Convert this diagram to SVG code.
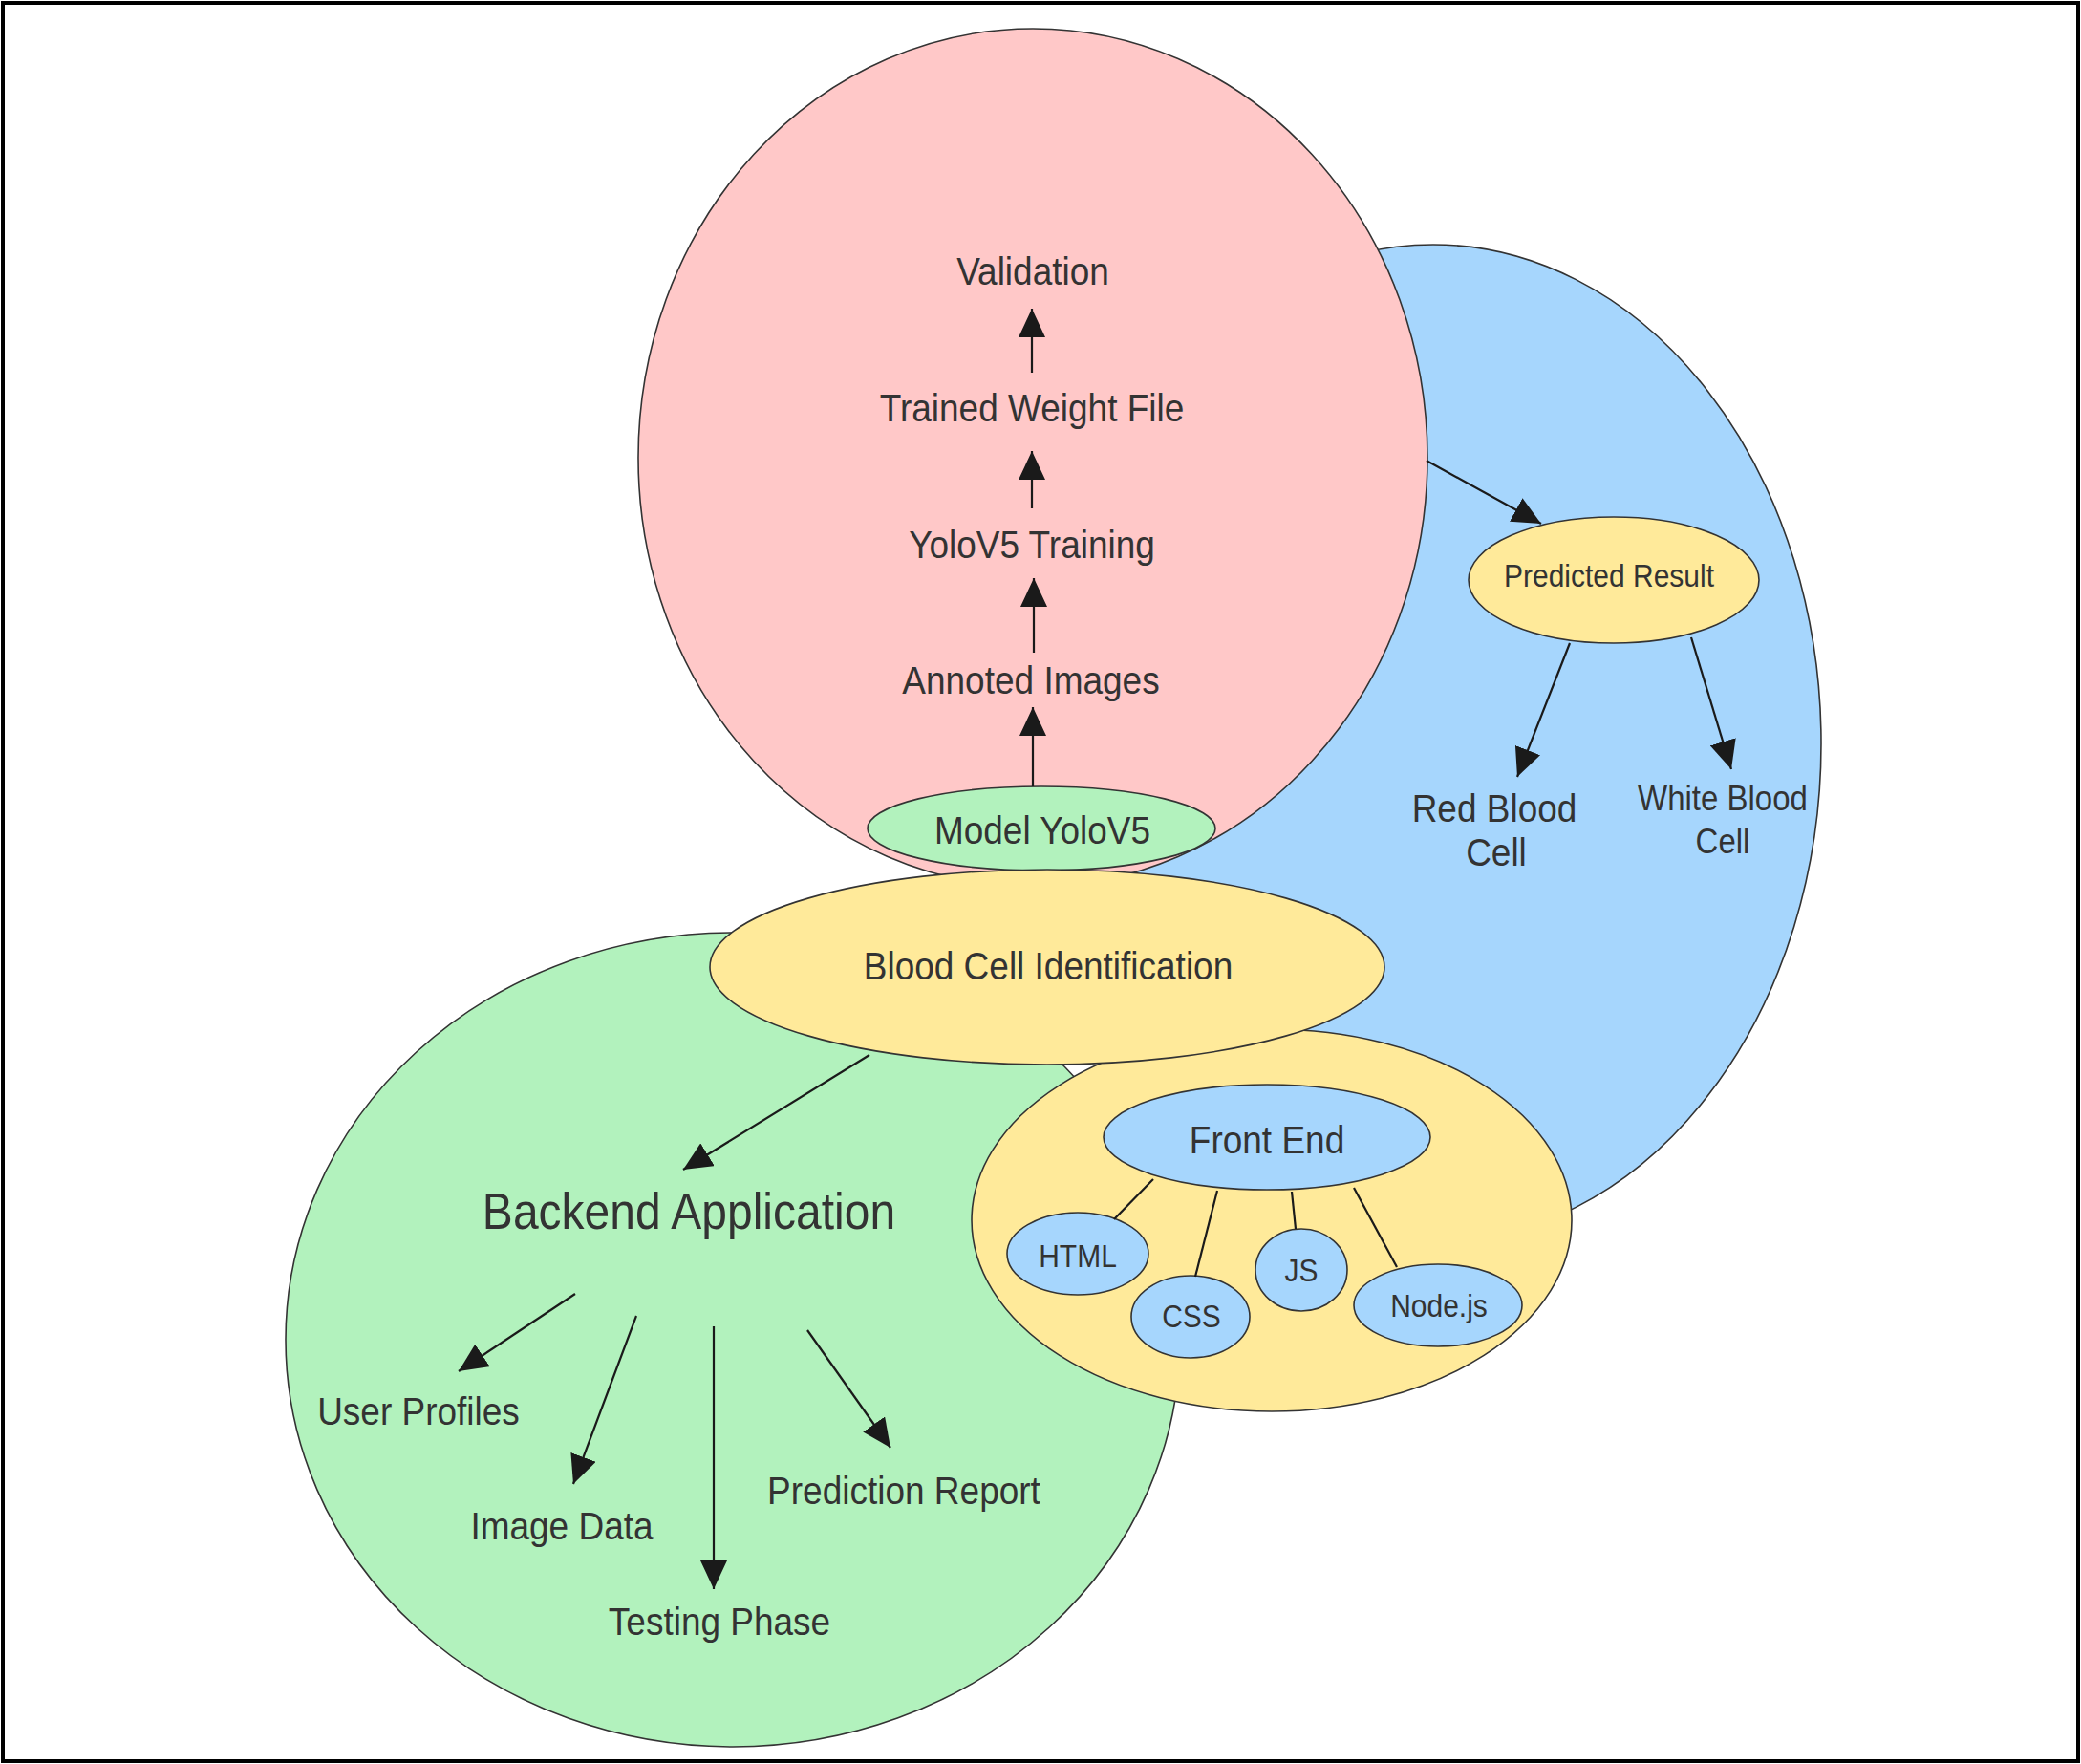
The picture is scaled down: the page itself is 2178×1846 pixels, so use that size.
<svg xmlns="http://www.w3.org/2000/svg" width="2178" height="1846" viewBox="0 0 2178 1846">
  <style>
    .lbl { font-family: "Liberation Sans", Arial, sans-serif; fill: #333333; text-anchor: middle; transform-box: fill-box; transform-origin: 50% 60%; transform: scaleY(1.12); }
    .f37 { font-size: 37px; }
    .f30 { font-size: 30px; }
    .f33 { font-size: 33px; }
    .f48 { font-size: 48px; }
    .shape { stroke: #333333; stroke-width: 1.6; }
    .pink { fill: #FFC8C8; }
    .blue { fill: #A6D6FD; }
    .green { fill: #B2F2BD; }
    .yellow { fill: #FFEA9A; }
    .conn { stroke: #1a1a1a; stroke-width: 2.2; fill: none; }
    .arrow { marker-end: url(#ah); }
  </style>
  <defs>
    <marker id="ah" markerUnits="userSpaceOnUse" markerWidth="30" markerHeight="28" refX="30" refY="14" orient="auto">
      <path d="M0,0 L30,14 L0,28 z" fill="#1a1a1a"/>
    </marker>
  </defs>
  <rect x="0" y="0" width="2178" height="1846" fill="#ffffff"/>
  <rect x="3" y="3" width="2172" height="1840" fill="none" stroke="#000000" stroke-width="4"/>

  <g id="region-prediction">
    <ellipse class="shape blue" cx="1500" cy="778" rx="406" ry="522"/>
  </g>
  <g id="region-training">
    <ellipse class="shape pink" cx="1081" cy="479" rx="413" ry="449"/>
  </g>
  <g id="region-backend">
    <ellipse class="shape green" cx="767" cy="1402" rx="468" ry="426"/>
  </g>
  <g id="region-frontend">
    <ellipse class="shape yellow" cx="1331" cy="1277" rx="314" ry="200"/>
  </g>

  <g id="node-model-yolov5">
    <ellipse class="shape green" cx="1090" cy="867" rx="182" ry="44"/>
    <text class="lbl f37" x="1091" y="882">Model YoloV5</text>
  </g>
  <g id="node-blood-cell-identification">
    <ellipse class="shape yellow" cx="1096" cy="1012" rx="353" ry="102"/>
    <text class="lbl f37" x="1097" y="1024">Blood Cell Identification</text>
  </g>
  <g id="node-predicted-result">
    <ellipse class="shape yellow" cx="1689" cy="607" rx="152" ry="66"/>
    <text class="lbl f30" x="1684" y="613">Predicted Result</text>
  </g>
  <g id="node-front-end">
    <ellipse class="shape blue" cx="1326" cy="1190" rx="171" ry="55"/>
    <text class="lbl f37" x="1326" y="1206">Front End</text>
  </g>
  <g id="node-html">
    <ellipse class="shape blue" cx="1128" cy="1312" rx="74" ry="43"/>
    <text class="lbl f30" x="1128" y="1325">HTML</text>
  </g>
  <g id="node-css">
    <ellipse class="shape blue" cx="1246" cy="1378" rx="62" ry="43"/>
    <text class="lbl f30" x="1247" y="1388">CSS</text>
  </g>
  <g id="node-js">
    <ellipse class="shape blue" cx="1362" cy="1329" rx="48" ry="43"/>
    <text class="lbl f30" x="1362" y="1340">JS</text>
  </g>
  <g id="node-nodejs">
    <ellipse class="shape blue" cx="1505" cy="1366" rx="88" ry="43"/>
    <text class="lbl f30" x="1506" y="1377">Node.js</text>
  </g>

  <g id="node-validation"><text class="lbl f37" x="1081" y="297">Validation</text></g>
  <g id="node-trained-weight-file"><text class="lbl f37" x="1080" y="440">Trained Weight File</text></g>
  <g id="node-yolov5-training"><text class="lbl f37" x="1080" y="583">YoloV5 Training</text></g>
  <g id="node-annoted-images"><text class="lbl f37" x="1079" y="725">Annoted Images</text></g>
  <g id="node-red-blood-cell"><text class="lbl f37" x="1564" y="862">Red Blood<tspan x="1566" dy="41">Cell</tspan></text></g>
  <g id="node-white-blood-cell"><text class="lbl f33" x="1803" y="850">White Blood<tspan x="1803" dy="40">Cell</tspan></text></g>
  <g id="node-backend-application"><text class="lbl f48" x="721" y="1285">Backend Application</text></g>
  <g id="node-user-profiles"><text class="lbl f37" x="438" y="1490">User Profiles</text></g>
  <g id="node-image-data"><text class="lbl f37" x="588" y="1610">Image Data</text></g>
  <g id="node-testing-phase"><text class="lbl f37" x="753" y="1710">Testing Phase</text></g>
  <g id="node-prediction-report"><text class="lbl f37" x="946" y="1573">Prediction Report</text></g>

  <g id="connectors">
    <line class="conn arrow" x1="1080" y1="390" x2="1080" y2="323"/>
    <line class="conn arrow" x1="1080" y1="532" x2="1080" y2="472"/>
    <line class="conn arrow" x1="1082" y1="683" x2="1082" y2="605"/>
    <line class="conn arrow" x1="1081" y1="823" x2="1081" y2="740"/>
    <line class="conn arrow" x1="1493" y1="482" x2="1613" y2="548"/>
    <line class="conn arrow" x1="1643" y1="673" x2="1588" y2="813"/>
    <line class="conn arrow" x1="1770" y1="667" x2="1812" y2="805"/>
    <line class="conn arrow" x1="910" y1="1104" x2="715" y2="1224"/>
    <line class="conn arrow" x1="602" y1="1354" x2="480" y2="1435"/>
    <line class="conn arrow" x1="666" y1="1377" x2="600" y2="1553"/>
    <line class="conn arrow" x1="747" y1="1388" x2="747" y2="1663"/>
    <line class="conn arrow" x1="845" y1="1392" x2="932" y2="1515"/>
    <line class="conn" x1="1207" y1="1234" x2="1166" y2="1276"/>
    <line class="conn" x1="1274" y1="1246" x2="1251" y2="1336"/>
    <line class="conn" x1="1352" y1="1247" x2="1356" y2="1286"/>
    <line class="conn" x1="1417" y1="1243" x2="1462" y2="1326"/>
  </g>
</svg>
